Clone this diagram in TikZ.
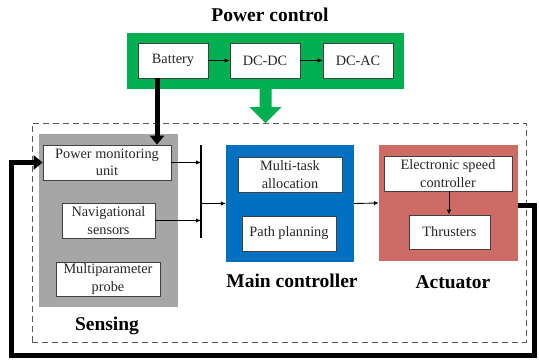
\documentclass[tikz,border=0pt]{standalone}
\usepackage{fontspec}
\setmainfont{Liberation Serif}
\usetikzlibrary{arrows.meta,calc}
\definecolor{pgreen}{HTML}{00B050}
\definecolor{sgray}{HTML}{A6A6A6}
\definecolor{cblue}{HTML}{0070C0}
\definecolor{ared}{HTML}{CD6C65}
\definecolor{edge}{HTML}{404040}
\tikzset{
  wbox/.style={draw=edge, line width=0.7pt, fill=white, inner sep=0pt,
    align=center, font=\fontsize{14.3}{17.5}\selectfont, text=black!85},
  panel/.style={draw=none, inner sep=0pt},
  title/.style={font=\fontsize{19.5}{22}\selectfont\bfseries, inner sep=0pt},
  thin arrow/.style={line width=0.9pt, -{Latex[length=5pt,width=4.5pt]}},
  thick line/.style={line width=5pt},
  thick arrow/.style={line width=5pt, -{Triangle[length=9pt,width=14pt]}},
}
\begin{document}
\begin{tikzpicture}[x=1pt,y=-1pt]
\useasboundingbox (0,0) rectangle (539,363);

% power control block
\node[title] (ptitle) at (270,15) {Power control};
\node[panel, fill=pgreen, minimum width=277pt, minimum height=56pt] (green) at (265.5,61) {};
\node[wbox, minimum width=70pt, minimum height=35pt] (bat) at (173,60.5) {Battery};
\node[wbox, minimum width=70pt, minimum height=35pt] (dcdc) at (265,60.5) {DC-DC};
\node[wbox, minimum width=70pt, minimum height=35pt] (dcac) at (358,60.5) {DC-AC};
\draw[thin arrow] (bat) -- (dcdc);
\draw[thin arrow] (dcdc) -- (dcac);

% wide green arrow feeding the system
\fill[pgreen] ($(green.south)+(-6,-1)$) -- ++(0,19) -- ++(-10,0)
  -- ($(green.south)+(0,34)$) -- ++(16,-16) -- ++(-10,0) -- ++(0,-19) -- cycle;

% dashed system frame
\node[draw=black!65, dash pattern=on 6pt off 4pt, line width=0.8pt,
  minimum width=494pt, minimum height=219pt, inner sep=0pt] (frame) at (279,232.5) {};

% sensing
\node[panel, fill=sgray, minimum width=139pt, minimum height=173pt] (sense) at (108.5,220.5) {};
\node[wbox, minimum width=128pt, minimum height=35pt] (pmu) at (107,162.5) {Power monitoring\\unit};
\node[wbox, minimum width=93pt, minimum height=35pt] (nav) at (108.5,220.5) {Navigational\\sensors};
\node[wbox, minimum width=104pt, minimum height=34pt] (probe) at (108,279) {Multiparameter\\probe};
\node[title] (lsense) at (107,326) {Sensing};

% signal bus
\coordinate (bt) at (201,145);
\coordinate (bb) at (201,238);
\draw[line width=1.6pt] (bt) -- (bb);
\draw[thin arrow] (pmu.east) -- (pmu.east -| bt);
\draw[thin arrow] (nav.east) -- (nav.east -| bt);

% main controller
\node[panel, fill=cblue, minimum width=128pt, minimum height=117pt] (ctrl) at (290,203.5) {};
\node[wbox, minimum width=104pt, minimum height=35pt] (mta) at (290,174.5) {Multi-task\\allocation};
\node[wbox, minimum width=94pt, minimum height=35pt] (path) at (289,233.5) {Path planning};
\node[title] (lctrl) at (292,281) {Main controller};
\draw[thin arrow] (bt |- ctrl.west) -- (ctrl.west);

% actuator
\node[panel, fill=ared, minimum width=139pt, minimum height=116pt] (act) at (448.5,203) {};
\node[wbox, minimum width=128pt, minimum height=35pt] (esc) at (448,173.5) {Electronic speed\\controller};
\node[wbox, minimum width=81pt, minimum height=34pt] (thr) at (449.5,232) {Thrusters};
\node[title] (lact) at (453,282) {Actuator};
\draw[thin arrow] (ctrl.east) -- (act.west);
\draw[line width=0.8pt, -{Latex[length=5pt,width=4.5pt]}] (esc.south -| 449,0) -- (thr.north -| 449,0);

% battery supply to the monitoring unit
\draw[thick arrow] (157,0 |- bat.south) -- (157,0 |- pmu.north);

% feedback loop from the actuator back to sensing
\coordinate (fr) at (534,356);
\coordinate (fl) at (11,356);
\draw[thick arrow] ([yshift=-2.5pt]act.east) -- ([yshift=-2.5pt]act.east -| fr)
  -- (fr) -- (fl) -- (fl |- pmu.west) -- (pmu.west);
\end{tikzpicture}
\end{document}
